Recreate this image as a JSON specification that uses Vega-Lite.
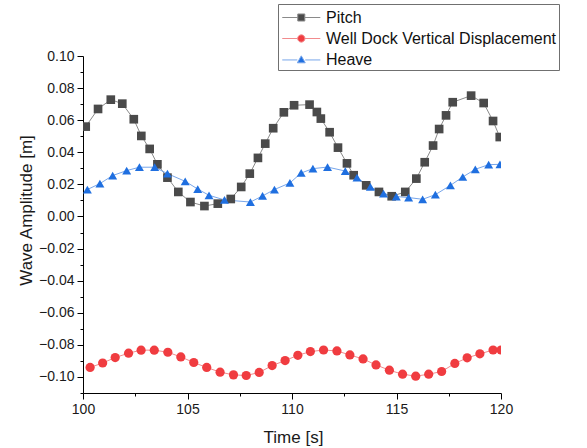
{
  "$schema": "https://vega.github.io/schema/vega-lite/v6.json",
  "width": 418,
  "height": 337,
  "autosize": {"type": "none"},
  "padding": {"left": 83, "top": 56, "right": 86, "bottom": 55},
  "background": "white",
  "config": {
    "font": "Liberation Sans",
    "view": {"stroke": null},
    "axis": {"grid": false, "domainColor": "#000000", "tickColor": "#000000", "labelColor": "#1a1a1a", "titleColor": "#1a1a1a", "labelFont": "Liberation Sans", "titleFont": "Liberation Sans", "labelFontSize": 14, "titleFontSize": 17, "titleFontWeight": "normal", "domainWidth": 1, "tickWidth": 1, "labelFlush": false},
    "legend": {
      "title": null,
      "orient": "none",
      "legendX": 195,
      "legendY": -52,
      "padding": 2,
      "rowPadding": 1,
      "strokeColor": "#707070",
      "fillColor": "white",
      "labelFont": "Liberation Sans",
      "labelFontSize": 16,
      "labelColor": "#111111",
      "labelLimit": 400,
      "labelOffset": 23,
      "symbolSize": 484,
      "symbolStrokeWidth": 1,
      "symbolOpacity": 1
    }
  },
  "datasets": {
    "d": [
      {"series": "Pitch", "t": 100.13, "v": 0.056},
      {"series": "Pitch", "t": 100.72, "v": 0.067},
      {"series": "Pitch", "t": 101.33, "v": 0.0728},
      {"series": "Pitch", "t": 101.88, "v": 0.0703},
      {"series": "Pitch", "t": 102.43, "v": 0.0606},
      {"series": "Pitch", "t": 102.79, "v": 0.0502},
      {"series": "Pitch", "t": 103.19, "v": 0.0421},
      {"series": "Pitch", "t": 103.56, "v": 0.0325},
      {"series": "Pitch", "t": 104.04, "v": 0.0242},
      {"series": "Pitch", "t": 104.56, "v": 0.0153},
      {"series": "Pitch", "t": 105.14, "v": 0.009},
      {"series": "Pitch", "t": 105.81, "v": 0.0065},
      {"series": "Pitch", "t": 106.45, "v": 0.008},
      {"series": "Pitch", "t": 107.07, "v": 0.0109},
      {"series": "Pitch", "t": 107.57, "v": 0.0184},
      {"series": "Pitch", "t": 107.98, "v": 0.0267},
      {"series": "Pitch", "t": 108.37, "v": 0.0365},
      {"series": "Pitch", "t": 108.72, "v": 0.0454},
      {"series": "Pitch", "t": 109.1, "v": 0.055},
      {"series": "Pitch", "t": 109.61, "v": 0.0649},
      {"series": "Pitch", "t": 110.1, "v": 0.0693},
      {"series": "Pitch", "t": 110.84, "v": 0.0697},
      {"series": "Pitch", "t": 111.19, "v": 0.0651},
      {"series": "Pitch", "t": 111.38, "v": 0.061},
      {"series": "Pitch", "t": 111.8, "v": 0.0525},
      {"series": "Pitch", "t": 112.2, "v": 0.0429},
      {"series": "Pitch", "t": 112.63, "v": 0.0331},
      {"series": "Pitch", "t": 112.95, "v": 0.0257},
      {"series": "Pitch", "t": 113.55, "v": 0.0194},
      {"series": "Pitch", "t": 114.16, "v": 0.0153},
      {"series": "Pitch", "t": 114.77, "v": 0.0126},
      {"series": "Pitch", "t": 115.42, "v": 0.0153},
      {"series": "Pitch", "t": 115.95, "v": 0.0236},
      {"series": "Pitch", "t": 116.35, "v": 0.0338},
      {"series": "Pitch", "t": 116.75, "v": 0.0442},
      {"series": "Pitch", "t": 117.04, "v": 0.0545},
      {"series": "Pitch", "t": 117.37, "v": 0.063},
      {"series": "Pitch", "t": 117.69, "v": 0.0712},
      {"series": "Pitch", "t": 118.57, "v": 0.0753},
      {"series": "Pitch", "t": 119.17, "v": 0.0707},
      {"series": "Pitch", "t": 119.62, "v": 0.0595},
      {"series": "Pitch", "t": 119.94, "v": 0.0495},
      {"series": "Well Dock Vertical Displacement", "t": 100.34, "v": -0.0941},
      {"series": "Well Dock Vertical Displacement", "t": 100.94, "v": -0.0913},
      {"series": "Well Dock Vertical Displacement", "t": 101.54, "v": -0.0879},
      {"series": "Well Dock Vertical Displacement", "t": 102.18, "v": -0.0852},
      {"series": "Well Dock Vertical Displacement", "t": 102.78, "v": -0.0833},
      {"series": "Well Dock Vertical Displacement", "t": 103.41, "v": -0.0833},
      {"series": "Well Dock Vertical Displacement", "t": 104.06, "v": -0.0846},
      {"series": "Well Dock Vertical Displacement", "t": 104.68, "v": -0.0875},
      {"series": "Well Dock Vertical Displacement", "t": 105.3, "v": -0.091},
      {"series": "Well Dock Vertical Displacement", "t": 105.92, "v": -0.0941},
      {"series": "Well Dock Vertical Displacement", "t": 106.56, "v": -0.097},
      {"series": "Well Dock Vertical Displacement", "t": 107.2, "v": -0.0987},
      {"series": "Well Dock Vertical Displacement", "t": 107.81, "v": -0.0991},
      {"series": "Well Dock Vertical Displacement", "t": 108.43, "v": -0.0972},
      {"series": "Well Dock Vertical Displacement", "t": 109.05, "v": -0.0929},
      {"series": "Well Dock Vertical Displacement", "t": 109.67, "v": -0.0898},
      {"series": "Well Dock Vertical Displacement", "t": 110.28, "v": -0.0865},
      {"series": "Well Dock Vertical Displacement", "t": 110.88, "v": -0.0842},
      {"series": "Well Dock Vertical Displacement", "t": 111.51, "v": -0.0832},
      {"series": "Well Dock Vertical Displacement", "t": 112.15, "v": -0.0838},
      {"series": "Well Dock Vertical Displacement", "t": 112.77, "v": -0.0863},
      {"series": "Well Dock Vertical Displacement", "t": 113.4, "v": -0.0888},
      {"series": "Well Dock Vertical Displacement", "t": 114.02, "v": -0.0925},
      {"series": "Well Dock Vertical Displacement", "t": 114.66, "v": -0.0958},
      {"series": "Well Dock Vertical Displacement", "t": 115.29, "v": -0.0983},
      {"series": "Well Dock Vertical Displacement", "t": 115.92, "v": -0.0995},
      {"series": "Well Dock Vertical Displacement", "t": 116.54, "v": -0.0983},
      {"series": "Well Dock Vertical Displacement", "t": 117.16, "v": -0.0966},
      {"series": "Well Dock Vertical Displacement", "t": 117.79, "v": -0.0916},
      {"series": "Well Dock Vertical Displacement", "t": 118.38, "v": -0.0881},
      {"series": "Well Dock Vertical Displacement", "t": 118.99, "v": -0.0856},
      {"series": "Well Dock Vertical Displacement", "t": 119.62, "v": -0.0832},
      {"series": "Well Dock Vertical Displacement", "t": 120.0, "v": -0.0832},
      {"series": "Heave", "t": 100.21, "v": 0.0168},
      {"series": "Heave", "t": 100.81, "v": 0.0205},
      {"series": "Heave", "t": 101.42, "v": 0.0255},
      {"series": "Heave", "t": 102.09, "v": 0.0286},
      {"series": "Heave", "t": 102.7, "v": 0.0307},
      {"series": "Heave", "t": 103.43, "v": 0.0307},
      {"series": "Heave", "t": 104.04, "v": 0.0267},
      {"series": "Heave", "t": 104.89, "v": 0.0219},
      {"series": "Heave", "t": 105.49, "v": 0.0171},
      {"series": "Heave", "t": 106.03, "v": 0.0132},
      {"series": "Heave", "t": 106.77, "v": 0.0103},
      {"series": "Heave", "t": 108.01, "v": 0.009},
      {"series": "Heave", "t": 108.59, "v": 0.0128},
      {"series": "Heave", "t": 109.16, "v": 0.0168},
      {"series": "Heave", "t": 109.9, "v": 0.0209},
      {"series": "Heave", "t": 110.44, "v": 0.0271},
      {"series": "Heave", "t": 111.0, "v": 0.0298},
      {"series": "Heave", "t": 111.7, "v": 0.0308},
      {"series": "Heave", "t": 112.55, "v": 0.0283},
      {"series": "Heave", "t": 113.11, "v": 0.0242},
      {"series": "Heave", "t": 113.75, "v": 0.0184},
      {"series": "Heave", "t": 114.38, "v": 0.0143},
      {"series": "Heave", "t": 114.99, "v": 0.0124},
      {"series": "Heave", "t": 115.58, "v": 0.0118},
      {"series": "Heave", "t": 116.25, "v": 0.0107},
      {"series": "Heave", "t": 116.86, "v": 0.0136},
      {"series": "Heave", "t": 117.58, "v": 0.0194},
      {"series": "Heave", "t": 118.17, "v": 0.0246},
      {"series": "Heave", "t": 118.77, "v": 0.0294},
      {"series": "Heave", "t": 119.41, "v": 0.0323},
      {"series": "Heave", "t": 119.95, "v": 0.0325}
    ]
  },
  "data": {"name": "d"},
  "encoding": {
    "x": {
      "field": "t", "type": "quantitative",
      "scale": {"domain": [100, 120], "nice": false, "zero": false},
      "axis": {
        "title": "Time [s]",
        "values": [100, 102.5, 105, 107.5, 110, 112.5, 115, 117.5, 120],
        "labelExpr": "datum.value % 5 == 0 ? format(datum.value, 'd') : ''",
        "tickSize": {"condition": {"test": "datum.value % 5 == 0", "value": 6}, "value": 3},
        "labelPadding": 3,
        "titleX": 210, "titleY": 44, "titleAnchor": "middle", "titleAlign": "center", "titleBaseline": "middle"
      }
    },
    "y": {
      "field": "v", "type": "quantitative",
      "scale": {"domain": [-0.11, 0.1], "nice": false, "zero": false},
      "axis": {
        "title": "Wave Amplitude [m]",
        "values": [-0.11, -0.1, -0.09, -0.08, -0.07, -0.06, -0.05, -0.04, -0.03, -0.02, -0.01, 0, 0.01, 0.02, 0.03, 0.04, 0.05, 0.06, 0.07, 0.08, 0.09, 0.1],
        "labelExpr": "abs(round(datum.value * 100)) % 2 == 0 ? format(datum.value, '.2f') : ''",
        "tickSize": {"condition": {"test": "abs(round(datum.value * 100)) % 2 == 0", "value": 6}, "value": 3},
        "labelPadding": 3,
        "titleX": -57, "titleY": 154, "titleAngle": -90, "titleAlign": "center", "titleBaseline": "middle"
      }
    }
  },
  "layer": [
    {
      "mark": {"type": "line", "strokeWidth": 1, "clip": true},
      "encoding": {
        "stroke": {
          "field": "series", "type": "nominal",
          "scale": {"domain": ["Pitch", "Well Dock Vertical Displacement", "Heave"], "range": ["#8a8a8a", "#f28b8d", "#78a6ea"]}
        },
        "order": {"field": "t"}
      }
    },
    {
      "mark": {"type": "point", "filled": true, "size": 0, "opacity": 1, "strokeWidth": 1, "clip": true},
      "encoding": {
        "fill": {
          "field": "series", "type": "nominal",
          "scale": {"domain": ["Pitch", "Well Dock Vertical Displacement", "Heave"], "range": ["#4a4a4a", "#f03c40", "#1f6fe0"]}
        },
        "stroke": {"field": "series", "type": "nominal"},
        "shape": {
          "field": "series", "type": "nominal",
          "scale": {"domain": ["Pitch", "Well Dock Vertical Displacement", "Heave"], "range": ["M-0.84,0H0.57M1.21,0H2.62M0.57,-0.32H1.21V0.32H0.57Z", "M-0.84,0H0.56M1.22,0H2.62M0.56,0A0.33,0.33,0,1,0,1.22,0A0.33,0.33,0,1,0,0.56,0Z", "M-0.84,0.04H0.53M1.25,0.04H2.62M0.89,-0.33L1.25,0.3L0.53,0.3Z"]}
        }
      }
    },
    {
      "transform": [{"filter": "datum.series === 'Pitch'"}],
      "mark": {"type": "point", "shape": "square", "filled": true, "opacity": 1, "size": 75, "color": "#4a4a4a", "clip": true}
    },
    {
      "transform": [{"filter": "datum.series === 'Well Dock Vertical Displacement'"}],
      "mark": {"type": "point", "shape": "circle", "filled": true, "opacity": 1, "size": 85, "color": "#f03c40", "clip": true}
    },
    {
      "transform": [{"filter": "datum.series === 'Heave'"}],
      "mark": {"type": "point", "shape": "triangle-up", "filled": true, "opacity": 1, "size": 80, "color": "#1f6fe0", "clip": true}
    }
  ]
}
